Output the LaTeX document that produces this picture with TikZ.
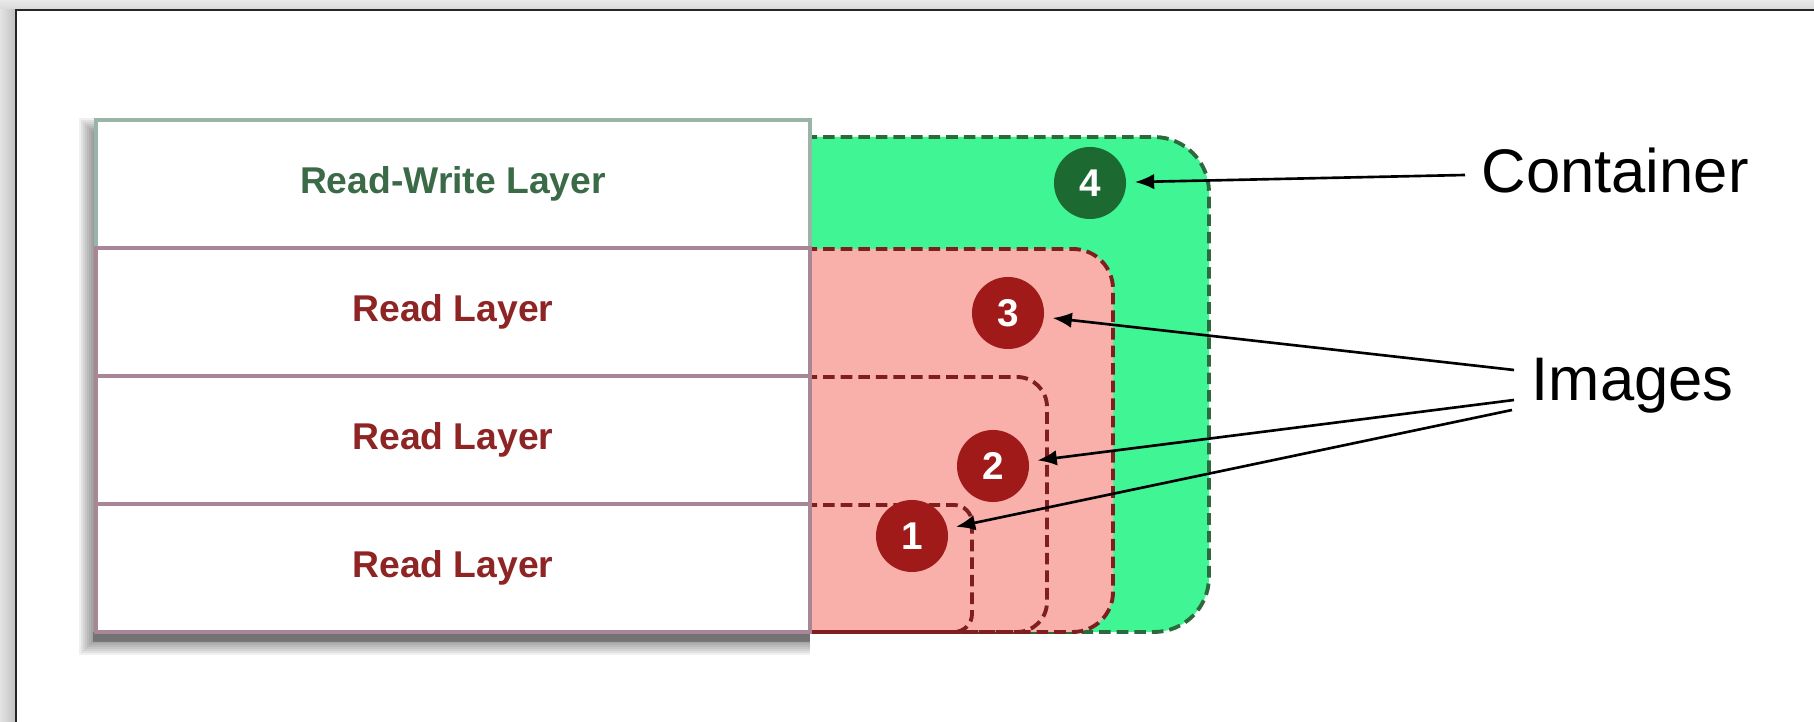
\documentclass[tikz,border=0pt]{standalone}
\usepackage{fontspec}
\setmainfont{Liberation Sans}
\usetikzlibrary{arrows.meta,calc}
\definecolor{greenfill}{HTML}{40F593}
\definecolor{pinkfill}{HTML}{F9B0AA}
\definecolor{greenline}{HTML}{2C6A3E}
\definecolor{redline}{HTML}{7E1E1E}
\definecolor{redcirc}{HTML}{A11A1A}
\definecolor{greencirc}{HTML}{1C6A32}
\definecolor{rwtext}{HTML}{3A6B46}
\definecolor{rtext}{HTML}{8E2424}
\definecolor{rwborder}{HTML}{9BB4A8}
\definecolor{rborder}{HTML}{A88696}
\begin{document}
\begin{tikzpicture}[x=0.01cm,y=-0.01cm,
  region/.style={line width=1.1pt, dash pattern=on 3.3pt off 1.7pt},
  layerbox/.style={rectangle, minimum width=7.14cm, minimum height=1.28cm, inner sep=0,
    line width=1pt, fill=white, font=\fontsize{10.6pt}{12pt}\selectfont\bfseries},
  numcirc/.style={circle, minimum size=0.72cm, inner sep=0, text=white,
    font=\fontsize{11pt}{12pt}\selectfont\bfseries},
  callout/.style={inner sep=0, font=\fontsize{17.5pt}{21pt}\selectfont},
  arr/.style={line width=0.75pt, -{Latex[length=5.5pt,width=4.4pt]}, shorten >=2.3pt}]
\useasboundingbox (0,0) rectangle (1814,722);
% page frame
\shade[top color=gray!18, bottom color=gray!30] (0,0) rectangle (1814,10);
\shade[left color=gray!22, right color=gray!50] (0,10) rectangle (16,722);
\fill[white] (16,10) rectangle (1814,722);
\draw[line width=0.6pt, black!85] (16,722) -- (16,10) -- (1814,10);
% regions
\fill[greenfill, rounded corners=0.55cm] (700,137) -- (1209,137) -- (1209,632) -- (700,632) -- cycle;
\draw[region, greenline, rounded corners=0.55cm] (700,137) -- (1209,137) -- (1209,632) -- (700,632);
\fill[pinkfill, rounded corners=0.4cm] (700,249) -- (1113,249) -- (1113,632) -- (700,632) -- cycle;
\draw[region, redline, rounded corners=0.4cm] (700,249) -- (1113,249) -- (1113,632) -- (700,632);
\draw[region, redline, rounded corners=0.3cm] (700,377) -- (1047,377) -- (1047,632) -- (700,632);
\draw[region, redline, rounded corners=0.18cm] (700,505) -- (972,505) -- (972,632) -- (700,632);
% shadow
\foreach \k in {0,2,...,14}
  \fill[black, opacity=0.06] (93-\k,132-\k) rectangle (810,641+\k);
\fill[black, opacity=0.25] (93,632) rectangle (810,642);
% layers
\node[layerbox, draw=rwborder, text=rwtext] (rw) at (453,184) {Read-Write Layer};
\node[layerbox, draw=rborder, text=rtext] (r3) at (453,312) {Read Layer};
\node[layerbox, draw=rborder, text=rtext] (r2) at (453,440) {Read Layer};
\node[layerbox, draw=rborder, text=rtext] (r1) at (453,568) {Read Layer};
% numbered circles
\node[numcirc, fill=greencirc] (c4) at (1090,183) {4};
\node[numcirc, fill=redcirc] (c3) at (1008,313) {3};
\node[numcirc, fill=redcirc] (c2) at (993,466) {2};
\node[numcirc, fill=redcirc] (c1) at (912,536) {1};
% callouts
\node[callout, anchor=base west] (cont) at (1481,193) {Container};
\node[callout, anchor=base west] (img) at (1531,401) {Images};
\coordinate (contfrom) at ($(cont.base west)+(-16,-18)$);
\coordinate (imgfromA) at ($(img.base west)+(-17,-31)$);
\coordinate (imgfromB) at ($(img.base west)+(-17,-1)$);
\coordinate (imgfromC) at ($(img.base west)+(-19,9)$);
\draw[arr] (contfrom) -- (c4);
\draw[arr] (imgfromA) -- (c3);
\draw[arr] (imgfromB) -- (c2);
\draw[arr] (imgfromC) -- (c1);
\end{tikzpicture}
\end{document}
